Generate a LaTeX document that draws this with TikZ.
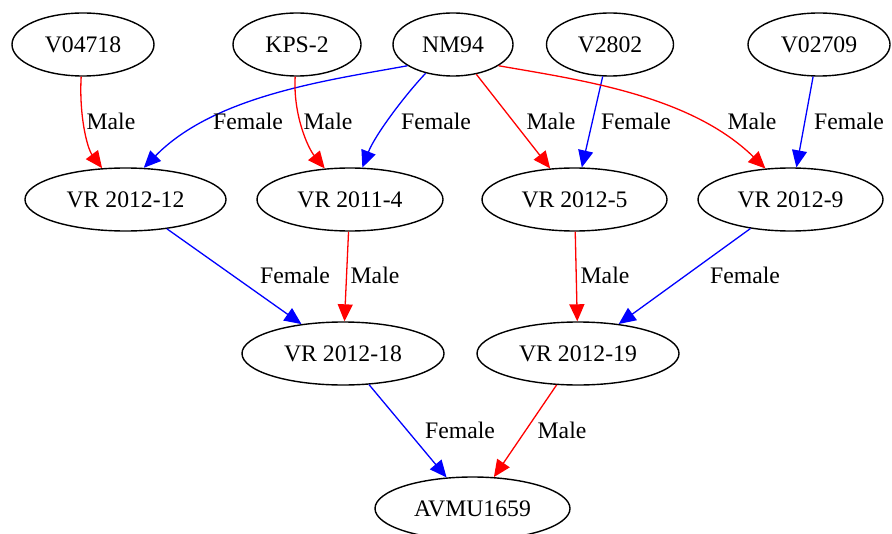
\documentclass[tikz,border=0pt]{standalone}
\usepackage{fontspec}
\setmainfont{Liberation Serif}
\usetikzlibrary{arrows.meta, shapes.geometric}
\tikzset{
    indiv/.style={ellipse, draw, line width=0.7pt, inner sep=0pt, minimum height=31.5pt, font=\rmfamily\fontsize{11.85}{14}\selectfont},
    maleEdge/.style={-{Triangle[length=8.5pt, width=7.5pt]}, red, line width=0.65pt},
    femaleEdge/.style={-{Triangle[length=8.5pt, width=7.5pt]}, blue, line width=0.65pt},
    edgeLabel/.style={font=\rmfamily\fontsize{11.85}{14}\selectfont, inner sep=0pt},
}
\newcommand{\drawParent}[5][maleEdge]{
    \draw[#1] (#2) -- (#3);
    \node[edgeLabel] (#2-#3) at (#4) {#5};
}
\newcommand{\drawCurve}[6][maleEdge]{
    \draw[#1] (#2) .. controls #6 .. (#3);
    \node[edgeLabel] (#2-#3) at (#4) {#5};
}

\begin{document}
\begin{tikzpicture}[x=0.5pt, y=-0.5pt]
        \useasboundingbox (0,0) rectangle (892,534);

        % parents
        \node[indiv, minimum width=71pt] (v04718) at (83,44.5) {V04718};
        \node[indiv, minimum width=64pt] (kps2) at (297,44.5) {KPS-2};
        \node[indiv, minimum width=60pt] (nm94) at (453,44.5) {NM94};
        \node[indiv, minimum width=63.5pt] (v2802) at (610,44.5) {V2802};
        \node[indiv, minimum width=71pt] (v02709) at (819,44.5) {V02709};

        % first generation
        \node[indiv, minimum width=100.5pt] (vr1212) at (125.5,199.5) {VR 2012-12};
        \node[indiv, minimum width=93pt] (vr114) at (350,199.5) {VR 2011-4};
        \node[indiv, minimum width=92.5pt] (vr125) at (574.5,199.5) {VR 2012-5};
        \node[indiv, minimum width=92.5pt] (vr129) at (790.5,199.5) {VR 2012-9};

        % second generation
        \node[indiv, minimum width=101pt] (vr1218) at (343,353.5) {VR 2012-18};
        \node[indiv, minimum width=101pt] (vr1219) at (578,353.5) {VR 2012-19};

        \node[indiv, minimum width=97.5pt] (avmu) at (472.5,508.5) {AVMU1659};

        \drawCurve{v04718}{vr1212}{111,121}{Male}{(79,115) and (87,148)}
        \draw[femaleEdge] (nm94.205) .. controls (330,80) and (215,95) .. (vr1212.60);
        \node[edgeLabel] (nm94-vr1212) at (248,121) {Female};
        \drawCurve{kps2}{vr114}{328,121}{Male}{(293,115) and (308,148)}
        \drawCurve[femaleEdge]{nm94}{vr114}{436,121}{Female}{(405,95) and (375,135)}
        \drawParent{nm94}{vr125}{551,121}{Male}
        \drawParent[femaleEdge]{v2802}{vr125}{636,121}{Female}
        \draw[maleEdge] (nm94.335) .. controls (580,80) and (690,95) .. (vr129.129);
        \node[edgeLabel] (nm94-vr129) at (752,121) {Male};
        \drawParent[femaleEdge]{v02709}{vr129}{849,121}{Female}

        \drawParent[femaleEdge]{vr1212}{vr1218}{295,275}{Female}
        \drawParent{vr114}{vr1218}{375,275}{Male}
        \drawParent{vr125}{vr1219}{605,275}{Male}
        \drawParent[femaleEdge]{vr129}{vr1219}{745,275}{Female}

        \drawParent[femaleEdge]{vr1218}{avmu}{460,430}{Female}
        \drawParent{vr1219}{avmu}{562,430}{Male}

    \end{tikzpicture}
\end{document}
